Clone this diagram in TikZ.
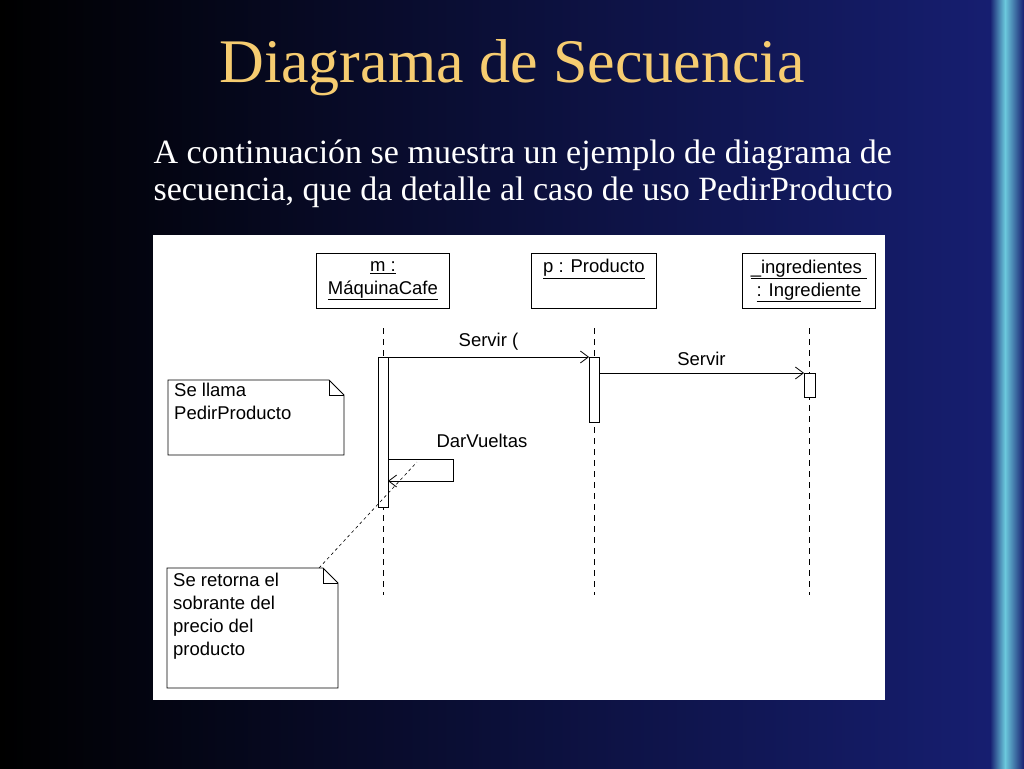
\documentclass[tikz,border=0pt]{standalone}
\usepackage{fontspec}
\setmainfont{Liberation Serif}
\setsansfont{Liberation Sans}
\usetikzlibrary{arrows.meta,positioning,shapes.misc}
\definecolor{slidetop}{RGB}{22,30,112}
\definecolor{titlegold}{RGB}{246,204,112}
\tikzset{
	obj/.style={draw, line width=0.8pt, minimum width=#1, minimum height=55pt, inner sep=2pt, anchor=north west, align=center, font=\sffamily\fontsize{18.5}{23}\selectfont},
	life/.style={dashed, line width=0.8pt, dash pattern=on 6pt off 5pt},
	act/.style={draw, fill=white, line width=0.8pt},
	msg/.style={line width=0.8pt, -{Straight Barb[length=8pt,width=12pt]}},
	lbl/.style={font=\sffamily\fontsize{18.5}{23}\selectfont}
}
\newcommand{\Note}[5]{
	% note with folded corner: name, x1, y1, x2, y2
	\draw[line width=0.8pt, fill=white] (#2,#3) -- (#4-15,#3) -- (#4,#3+15) -- (#4,#5) -- (#2,#5) -- cycle;
	\draw[line width=0.8pt] (#4-15,#3) -- (#4-15,#3+15) -- (#4,#3+15);
	\coordinate (#1) at (#2,#3);
}
\begin{document}
\begin{tikzpicture}[x=1pt,y=-1pt]
	\useasboundingbox (0,0) rectangle (1024,768);
	\shade[left color=black, right color=slidetop] (0,0) rectangle (990,768);
	\shade[left color=slidetop, right color=slidetop!40!cyan!60!white] (990,0) rectangle (1005,768);
	\shade[left color=slidetop!40!cyan!60!white, right color=slidetop] (1005,0) rectangle (1024,768);
	% title and text
	\node[text=titlegold, font=\fontsize{62}{70}\selectfont] (title) at (512,68) {Diagrama de Secuencia};
	\node[text=white, anchor=west, align=left, font=\fontsize{34}{37}\selectfont] (intro) at (150,174) {A continuación se muestra un ejemplo de diagrama de\\secuencia, que da detalle al caso de uso PedirProducto};
	% diagram panel
	\fill[white] (153,235) rectangle (885,700);
	\node[obj=133pt] (m) at (316,253) {\underline{m :}\\\underline{MáquinaCafe}};
	\node[obj=125pt] (p) at (531,253) {\underline{p : Producto}\\\strut};
	\node[obj=133pt] (ing) at (742,253) {\underline{\_ingredientes\ }\\\underline{: Ingrediente}};
	% lifelines
	\coordinate (mtop) at (383,328); \coordinate (mbot) at (383,595);
	\coordinate (ptop) at (594,328); \coordinate (pbot) at (594,595);
	\coordinate (itop) at (809,328); \coordinate (ibot) at (809,595);
	\draw[life] (mtop) -- (mbot);
	\draw[life] (ptop) -- (pbot);
	\draw[life] (itop) -- (ibot);
	% activations
	\draw[act] (378,357) rectangle (388,507);
	\draw[act] (589,357) rectangle (599,422);
	\draw[act] (804,373) rectangle (815,397);
	\coordinate (ma) at (388,357); \coordinate (pa) at (589,357);
	\coordinate (pb) at (599,373); \coordinate (ia) at (804,373);
	% messages
	\draw[msg] (ma) -- node[lbl, above=3pt] {Servir (} (pa);
	\draw[msg] (pb) -- node[lbl, above=4pt] {Servir} (ia);
	\coordinate (s1) at (388,459); \coordinate (s2) at (388,481);
	\draw[msg] (s1) -- (453,459) -- (453,481) -- (s2);
	\node[lbl] (dv) at (482,441) {DarVueltas};
	% notes
	\Note{n1}{168}{380}{344}{455}
	\node[lbl, anchor=north west, align=left, inner sep=0pt] at (174,383) {Se llama\\PedirProducto};
	\Note{n2}{167}{568}{338}{688}
	\node[lbl, anchor=north west, align=left, inner sep=0pt] at (173,573) {Se retorna el\\sobrante del\\precio del\\producto};
	\coordinate (n2c) at (319,568); \coordinate (dvend) at (417,462);
	\draw[dashed, line width=0.6pt] (n2c) -- (dvend);
\end{tikzpicture}
\end{document}
